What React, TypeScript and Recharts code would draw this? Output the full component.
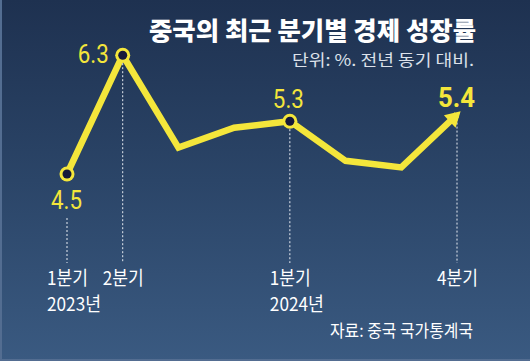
import React from 'react'
import { LineChart, Line, XAxis, YAxis } from 'recharts'

const quarters = ['2023 Q1', '2023 Q2', '2023 Q3', '2023 Q4', '2024 Q1', '2024 Q2', '2024 Q3', '2024 Q4']
const growth = [4.5, 6.3, 4.9, 5.2, 5.3, 4.7, 4.6, 5.4]
const quarterLabels = ['1분기', '2분기', '', '', '1분기', '', '', '4분기']
const yearLabels = ['2023년', '', '', '', '2024년', '', '', '']

const data = quarters.map((q, i) => ({ q, value: growth[i] }))

const YELLOW = '#f4e63b'
const DARK = '#16193a'
const NUM_FONT = 'Roboto, "Noto Sans", sans-serif'
const KR_FONT = '"Noto Sans CJK KR", "Noto Sans", sans-serif'
const W = 530
const H = 361
const margin = { top: 42, right: 73, bottom: 124, left: 67 }
const guideBottom = 263

const renderDot = (props: any) => {
  const { cx, cy, index, points } = props
  const last = index === data.length - 1
  const marked = quarterLabels[index] !== ''
  if (!marked) return <g key={`d-${index}`} />
  const guideTop = index === 0 ? cy + 44 : last ? cy + 4 : cy + 8
  let head = null
  if (last) {
    let dx = 1, dy = -0.87
    if (points && points[index - 1]) {
      dx = cx - points[index - 1].x
      dy = cy - points[index - 1].y
    }
    const len = Math.hypot(dx, dy)
    const ux = dx / len, uy = dy / len
    const tx = cx + ux * 5, ty = cy + uy * 5
    const bx = tx - ux * 15, by = ty - uy * 15
    const px = -uy * 8.5, py = ux * 8.5
    head = <polygon points={`${tx},${ty} ${bx + px},${by + py} ${bx - px},${by - py}`} fill={YELLOW} />
  }
  return (
    <g key={`d-${index}`}>
      <line x1={cx} x2={cx} y1={guideTop} y2={guideBottom} stroke="#e8ecf2" strokeWidth={1} strokeDasharray="2 2" />
      {last ? head : (
        <g>
          <circle cx={cx} cy={cy} r={7.5} fill={YELLOW} />
          <circle cx={cx} cy={cy} r={4.5} fill={DARK} />
        </g>
      )}
    </g>
  )
}

const renderLabel = (props: any) => {
  const { x, y, index, value } = props
  const txt = Number(value).toFixed(1)
  const base = { fill: YELLOW, fontFamily: NUM_FONT, fontSize: 25, textLength: 31, lengthAdjust: 'spacingAndGlyphs' }
  if (index === 0) return <text key="l0" x={x - 16} y={y + 35} {...base}>{txt}</text>
  if (index === 1) return <text key="l1" x={x - 45} y={y + 8} {...base}>{txt}</text>
  if (index === 4) return <text key="l4" x={x - 17} y={y - 13} {...base}>{txt}</text>
  if (index === data.length - 1)
    return <text key="l7" x={x - 19} y={y - 8} {...base} fontSize={28} fontWeight={700} textLength={37}>{txt}</text>
  return <g key={`l${index}`} />
}

const AxisTick = (props: any) => {
  const { x, y, index } = props
  return (
    <g>
      {quarterLabels[index] && (
        <text x={x - 20} y={y + 78} fill="#ffffff" fontFamily={KR_FONT} fontSize={19} textLength={41} lengthAdjust="spacingAndGlyphs">
          {quarterLabels[index]}
        </text>
      )}
      {yearLabels[index] && (
        <text x={x - 20} y={y + 104} fill="#ffffff" fontFamily={KR_FONT} fontSize={19} textLength={54} lengthAdjust="spacingAndGlyphs">
          {yearLabels[index]}
        </text>
      )}
    </g>
  )
}

export default function App() {
  return (
    <div
      style={{
        position: 'absolute',
        left: 0,
        top: 0,
        width: W,
        height: H,
        background: 'linear-gradient(180deg, #1e3150 0%, #2b4568 50%, #3a5a81 100%)',
        boxShadow: 'inset 2px -2px 0 #536d91',
      }}
    >
      <LineChart width={W} height={H} data={data} margin={margin}>
        <XAxis
          dataKey="q"
          axisLine={false}
          tickLine={false}
          tickSize={0}
          tickMargin={0}
          height={30}
          interval={0}
          tick={<AxisTick />}
        />
        <YAxis hide domain={[4, 6.5]} />
        <Line
          type="linear"
          dataKey="value"
          stroke={YELLOW}
          strokeWidth={6.5}
          dot={renderDot}
          activeDot={false}
          label={renderLabel}
          isAnimationActive={false}
        />
      </LineChart>
      <svg width={W} height={H} style={{ position: 'absolute', left: 0, top: 0, pointerEvents: 'none' }}>
        <text x={149} y={40} fill="#ffffff" fontFamily={KR_FONT} fontWeight={900} fontSize={25} textLength={327} lengthAdjust="spacingAndGlyphs">
          중국의 최근 분기별 경제 성장률
        </text>
        <text x={292} y={66} fill="#dde2ea" fontFamily={KR_FONT} fontSize={16} textLength={182} lengthAdjust="spacingAndGlyphs">
          단위: %. 전년 동기 대비.
        </text>
        <text x={330} y={337} fill="#ffffff" fontFamily={KR_FONT} fontSize={17} textLength={143} lengthAdjust="spacingAndGlyphs">
          자료: 중국 국가통계국
        </text>
      </svg>
    </div>
  )
}
